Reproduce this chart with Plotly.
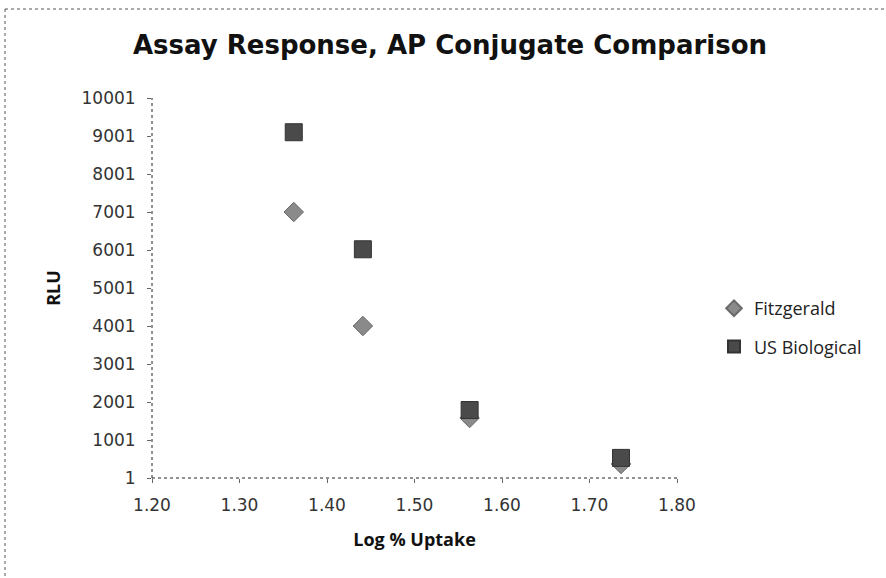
import plotly.graph_objects as go

# Data
fitz_x = [1.362, 1.441, 1.563, 1.736]
fitz_y = [7001, 4001, 1580, 370]
usbio_x = [1.362, 1.441, 1.563, 1.736]
usbio_y = [9100, 6020, 1790, 530]
y_ticks = [1, 1001, 2001, 3001, 4001, 5001, 6001, 7001, 8001, 9001, 10001]
y_tick_text = [str(v) for v in y_ticks]
x_ticks = [1.2, 1.3, 1.4, 1.5, 1.6, 1.7, 1.8]

W, H = 886, 578
L, R, T, B = 152, 886 - 677, 98, 578 - 478

fig = go.Figure()
fig.add_trace(go.Scatter(
    x=fitz_x, y=fitz_y, mode="markers", name="Fitzgerald", legendgroup="a",
    marker=dict(symbol="diamond", size=15, color="#8a8a8a",
                line=dict(width=1, color="#6a6a6a"))))
fig.add_trace(go.Scatter(
    x=usbio_x, y=usbio_y, mode="markers", name="US Biological", legendgroup="b",
    marker=dict(symbol="square", size=17, color="#4a4a4a",
                line=dict(width=1, color="#333333"))))

pw = W - L - R
ph = H - T - B
def px(x):
    return (x - L) / pw
def py(y):
    return 1 - (y - T) / ph

shapes = [
    dict(type="line", xref="paper", yref="paper", x0=0, x1=1, y0=0, y1=0,
         line=dict(color="#222", width=1, dash="dot")),
    dict(type="line", xref="paper", yref="paper", x0=0, x1=0, y0=0, y1=1,
         line=dict(color="#222", width=1, dash="dot")),
    dict(type="line", xref="paper", yref="paper", x0=px(5), x1=px(900), y0=py(9), y1=py(9),
         line=dict(color="#555", width=1, dash="dot")),
    dict(type="line", xref="paper", yref="paper", x0=px(5), x1=px(5), y0=py(9), y1=py(600),
         line=dict(color="#555", width=1, dash="dot")),
]

fig.update_layout(
    width=W, height=H,
    margin=dict(l=L, r=R, t=T, b=B),
    paper_bgcolor="white", plot_bgcolor="white",
    title=dict(text="<b>Assay Response, AP Conjugate Comparison</b>",
               xref="container", x=450 / W, xanchor="center",
               yref="container", y=1 - 45 / H, yanchor="middle",
               font=dict(family="DejaVu Sans", size=26, color="#111")),
    xaxis=dict(range=[1.2, 1.8], tickvals=x_ticks, tickformat=".2f",
               showgrid=False, zeroline=False, showline=False,
               ticks="outside", ticklen=4, tickcolor="#666",
               ticklabelstandoff=8,
               tickfont=dict(family="DejaVu Sans", size=17, color="#333"),
               title=dict(text="<b>Log % Uptake</b>", standoff=18,
                          font=dict(family="Open Sans", size=18, color="#111"))),
    yaxis=dict(range=[1, 10001], tickvals=y_ticks, ticktext=y_tick_text,
               showgrid=False, zeroline=False, showline=False,
               ticks="outside", ticklen=4, tickcolor="#666",
               ticklabelstandoff=8,
               tickfont=dict(family="DejaVu Sans", size=17, color="#333"),
               title=dict(text="<b>RLU</b>", standoff=16,
                          font=dict(family="Open Sans", size=18, color="#111"))),
    legend=dict(x=px(714), y=py(290), xanchor="left", yanchor="top",
                font=dict(family="Open Sans", size=18, color="#222"),
                itemsizing="constant", tracegroupgap=12,
                bgcolor="rgba(0,0,0,0)"),
    showlegend=True,
    shapes=shapes,
)

fig.write_html("out.html")
